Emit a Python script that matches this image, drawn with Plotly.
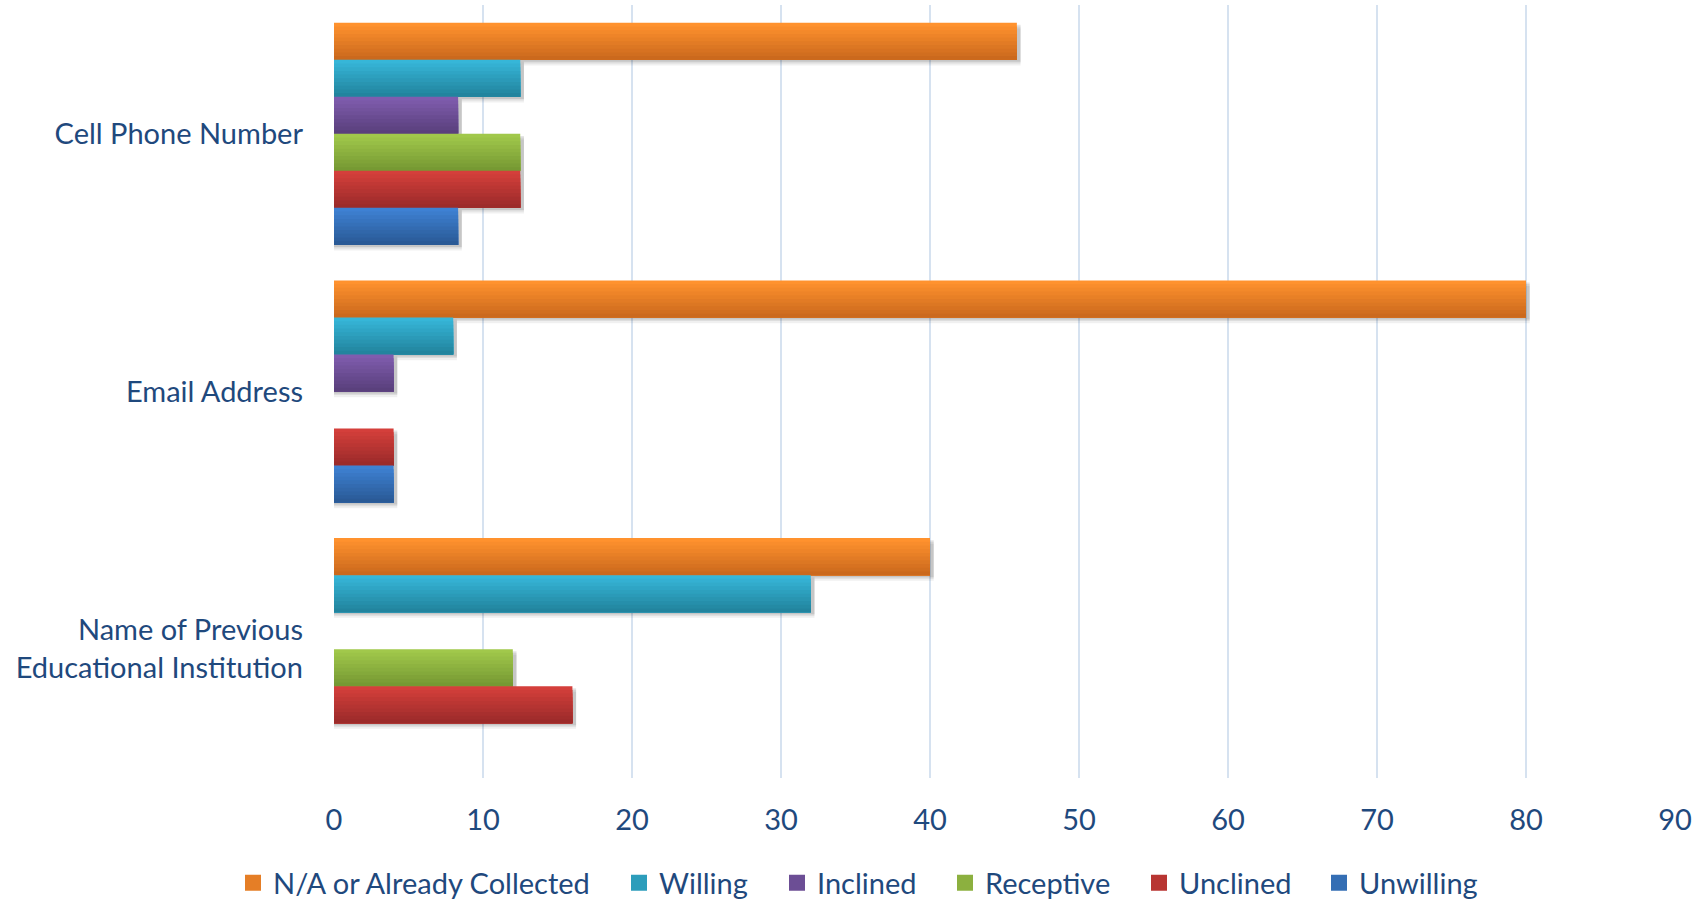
import plotly.graph_objects as go

categories = ["Cell Phone Number", "Email Address", "Name of Previous<br>Educational Institution"]
series_names = ["N/A or Already Collected", "Willing", "Inclined", "Receptive", "Unclined", "Unwilling"]
na_collected = [45.83, 80, 40]
willing = [12.5, 8, 32]
inclined = [8.33, 4, 0]
receptive = [12.5, 0, 12]
unclined = [12.5, 4, 16]
unwilling = [8.33, 4, 0]
x_ticks = [0, 10, 20, 30, 40, 50, 60, 70, 80, 90]

series_values = [na_collected, willing, inclined, receptive, unclined, unwilling]
# (top colour, bottom colour) of the vertical gradient
colors = [("#FF922E", "#CB691D"), ("#36B6D8", "#22849E"), ("#7F5CAE", "#5A407C"),
          ("#A1C84B", "#769933"), ("#D43F3B", "#9C2B2A"), ("#3E81D3", "#2A5A96")]
# left edge (px) of each legend key
legend_left = [243, 629, 787, 955, 1149, 1329]

def mix(c1, c2, t):
    a = [int(c1[i:i + 2], 16) for i in (1, 3, 5)]
    b = [int(c2[i:i + 2], 16) for i in (1, 3, 5)]
    return "#%02X%02X%02X" % tuple(round(a[i] + (b[i] - a[i]) * t) for i in range(3))

W, H = 1705, 900
group = 0.862
w = group / len(series_names)
N = 10
text_color = "#1F497D"
font_family = "Lato"
fsize = 29

fig = go.Figure()
# soft shadows
for k, vals in enumerate(series_values):
    base = -group / 2 + k * w
    xs = [v + 0.25 if v > 0 else 0 for v in vals]
    for d, a in ((0.022, 0.06), (0.014, 0.08), (0.008, 0.10)):
        fig.add_trace(go.Bar(y=categories, x=xs, orientation="h", offset=base + d, width=w,
                             marker=dict(color="rgba(0,0,0,%s)" % a, line=dict(width=0)),
                             showlegend=False, hoverinfo="skip"))
# gradient bars
legend_layouts = {}
for k, (name, vals) in enumerate(zip(series_names, series_values)):
    base = -group / 2 + k * w
    top, bot = colors[k]
    for j in range(N):
        fig.add_trace(go.Bar(
            y=categories, x=vals, orientation="h", name=name,
            offset=base + j * w / N, width=w - j * w / N,
            marker=dict(color=mix(top, bot, j / (N - 1)), line=dict(width=0)),
            legendgroup=name, showlegend=False,
        ))
    lname = "legend" if k == 0 else "legend%d" % (k + 1)
    fig.add_trace(go.Scatter(
        x=[None], y=[None], mode="markers", name=name, legendgroup=name, legend=lname,
        marker=dict(symbol="square", size=18, color=mix(top, bot, 0.5)),
        showlegend=True, hoverinfo="skip",
    ))
    legend_layouts[lname] = dict(
        orientation="h", xref="container", yref="container",
        x=(legend_left[k] - 10) / W, xanchor="left", y=1 - 883 / H, yanchor="middle",
        font=dict(size=fsize, color=text_color), itemwidth=30, bgcolor="rgba(0,0,0,0)",
    )

fig.update_layout(
    width=W, height=H,
    barmode="overlay",
    plot_bgcolor="white", paper_bgcolor="white",
    margin=dict(l=334, r=30, t=5, b=122, autoexpand=False),
    font=dict(family=font_family, size=fsize, color=text_color),
    showlegend=True,
    xaxis=dict(range=[0, 90], tickvals=x_ticks, showgrid=True, gridcolor="#D6E2F0",
               gridwidth=2, zeroline=False, showline=False, ticks="", automargin=False,
               ticklabelstandoff=22, tickfont=dict(size=fsize, color=text_color)),
    yaxis=dict(autorange="reversed", showgrid=False, zeroline=False, showline=False,
               ticks="", automargin=False, ticklabelstandoff=30,
               tickfont=dict(size=fsize, color=text_color)),
    **legend_layouts,
)

fig.write_html("out.html", config={"displayModeBar": False},
               post_script="document.body.style.margin='0';")
